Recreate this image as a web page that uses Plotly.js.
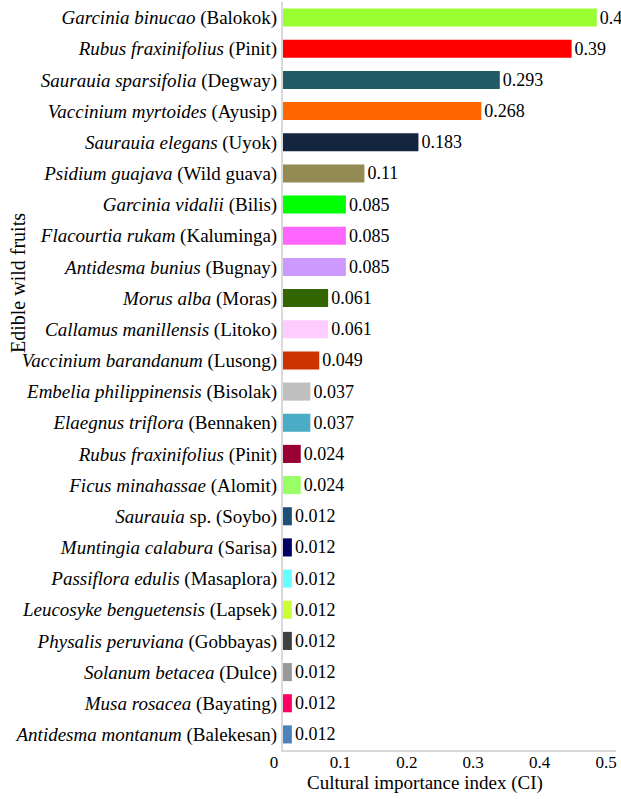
<!DOCTYPE html>
<html>
<head>
<meta charset="utf-8">
<script src="https://cdn.plot.ly/plotly-3.0.1.min.js"></script>
<style>html,body{margin:0;padding:0;background:#fff;}#chart{width:621px;height:799px;}</style>
</head>
<body>
<div id="chart"></div>
<script>
// Category labels (scientific name in italics, local name in parentheses)
const categories = [
  "<i>Garcinia binucao</i> (Balokok)",
  "<i>Rubus fraxinifolius</i> (Pinit)",
  "<i>Saurauia sparsifolia</i> (Degway)",
  "<i>Vaccinium myrtoides</i> (Ayusip)",
  "<i>Saurauia elegans</i> (Uyok)",
  "<i>Psidium guajava</i> (Wild guava)",
  "<i>Garcinia vidalii</i> (Bilis)",
  "<i>Flacourtia rukam</i> (Kaluminga)",
  "<i>Antidesma bunius</i> (Bugnay)",
  "<i>Morus alba</i> (Moras)",
  "<i>Callamus manillensis</i> (Litoko)",
  "<i>Vaccinium barandanum</i> (Lusong)",
  "<i>Embelia philippinensis</i> (Bisolak)",
  "<i>Elaegnus triflora</i> (Bennaken)",
  "<i>Rubus fraxinifolius</i> (Pinit)\u200b",
  "<i>Ficus minahassae</i> (Alomit)",
  "<i>Saurauia</i> sp. (Soybo)",
  "<i>Muntingia calabura</i> (Sarisa)",
  "<i>Passiflora edulis</i> (Masaplora)",
  "<i>Leucosyke benguetensis</i> (Lapsek)",
  "<i>Physalis peruviana</i> (Gobbayas)",
  "<i>Solanum betacea</i> (Dulce)",
  "<i>Musa rosacea</i> (Bayating)",
  "<i>Antidesma montanum</i> (Balekesan)"
];

// Bar lengths
const ciValues = [0.424, 0.39, 0.293, 0.268, 0.183, 0.11, 0.085, 0.085, 0.085, 0.061, 0.061, 0.049,
                  0.037, 0.037, 0.024, 0.024, 0.012, 0.012, 0.012, 0.012, 0.012, 0.012, 0.012, 0.012];

// Data labels as printed on the chart
const ciLabels = ["0.4", "0.39", "0.293", "0.268", "0.183", "0.11", "0.085", "0.085", "0.085", "0.061", "0.061", "0.049",
                  "0.037", "0.037", "0.024", "0.024", "0.012", "0.012", "0.012", "0.012", "0.012", "0.012", "0.012", "0.012"];

const barColors = ["#99ff33", "#ff0000", "#235a68", "#ff6600", "#13253f", "#948a54", "#00ff00", "#ff66ff",
                   "#cc99ff", "#336600", "#ffccff", "#cc3300", "#bfbfbf", "#4bacc6", "#990033", "#99ff66",
                   "#1f4e79", "#000066", "#66ffff", "#ccff33", "#404040", "#999999", "#ff0066", "#4f81bd"];

const xTickValues = [0, 0.1, 0.2, 0.3, 0.4, 0.5];

const FONT = "Times New Roman, Tinos, Liberation Serif, DejaVu Serif";

const traces = [
  {
    type: "bar",
    orientation: "h",
    y: categories,
    x: ciValues,
    text: ciLabels,
    textposition: "outside",
    constraintext: "none",
    cliponaxis: false,
    textfont: {family: FONT, size: 18, color: "#000"},
    marker: {color: barColors, line: {width: 0}},
    hoverinfo: "x+y",
    showlegend: false
  },
  {
    type: "scatter",
    mode: "markers",
    x: [xTickValues[0]],
    y: [categories[0]],
    xaxis: "x2",
    yaxis: "y",
    marker: {opacity: 0, size: 1},
    hoverinfo: "skip",
    showlegend: false
  }
];

const L = 265, R = 5, T = 2, B = 49, W = 621, H = 799;
const plotW = W - L - R, plotH = H - T - B;

const layout = {
  width: W,
  height: H,
  margin: {l: L, r: R, t: T, b: B, pad: 0},
  paper_bgcolor: "#ffffff",
  plot_bgcolor: "rgba(0,0,0,0)",
  font: {family: FONT, size: 18, color: "#000"},
  bargap: 0.42,
  xaxis: {
    domain: [(283 - L) / plotW, 1],
    range: [0, 0.45],
    showline: true,
    linecolor: "#d9d9d9",
    linewidth: 2,
    showticklabels: false,
    ticks: "",
    showgrid: false,
    zeroline: false,
    fixedrange: true
  },
  xaxis2: {
    domain: [0, 1],
    anchor: "free",
    position: 0,
    range: [-9 / 664, (plotW - 9) / 664],
    tickvals: xTickValues,
    ticktext: xTickValues.map(v => String(v)),
    showline: false,
    ticks: "",
    showgrid: false,
    zeroline: false,
    tickfont: {family: FONT, size: 17, color: "#000"},
    fixedrange: true
  },
  yaxis: {
    type: "category",
    range: [categories.length - 0.5, -0.5],
    showline: true,
    linecolor: "#d9d9d9",
    linewidth: 2,
    ticks: "",
    showgrid: false,
    zeroline: false,
    tickfont: {family: FONT, size: 19, color: "#000"},
    fixedrange: true
  },
  annotations: [
    {
      text: "Edible wild fruits",
      xref: "paper", yref: "paper",
      x: (18 - L) / plotW, y: (T + plotH - 283) / plotH,
      xanchor: "center", yanchor: "middle",
      textangle: -90,
      showarrow: false,
      font: {family: FONT, size: 20, color: "#000"}
    },
    {
      text: "Cultural importance index (CI)",
      xref: "paper", yref: "paper",
      x: (425 - L) / plotW, y: (T + plotH - 783) / plotH,
      xanchor: "center", yanchor: "middle",
      showarrow: false,
      font: {family: FONT, size: 19, color: "#000"}
    }
  ]
};

Plotly.newPlot("chart", traces, layout, {displayModeBar: false, staticPlot: true});
</script>
</body>
</html>
